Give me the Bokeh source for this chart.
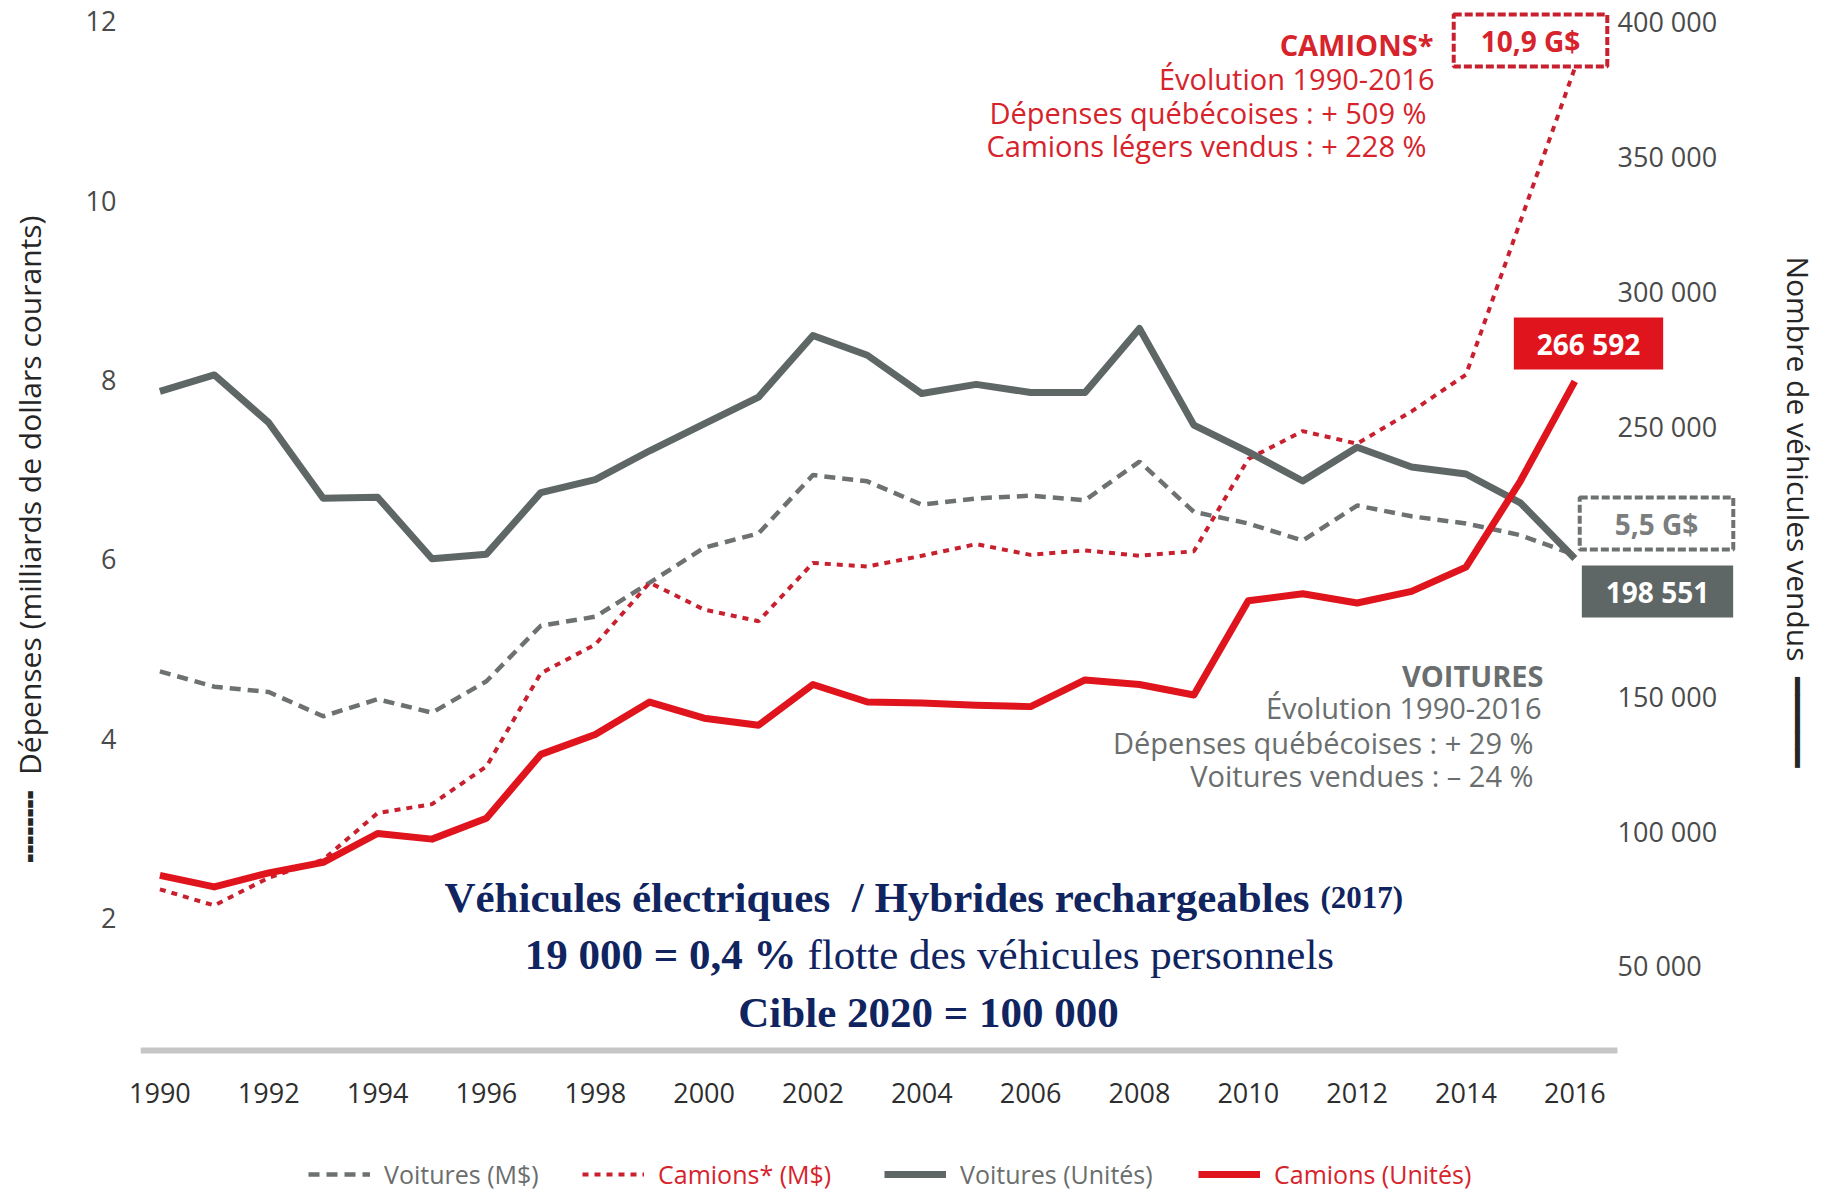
from bokeh.plotting import figure
from bokeh.layouts import column
from bokeh.models import Range1d, LinearAxis, FixedTicker, Label, Legend, LegendItem
from bokeh.embed import file_html
from bokeh.resources import INLINE

# ---------------- data ----------------
years = list(range(1990, 2017))
voitures_md = [4.75, 4.58, 4.52, 4.25, 4.44, 4.29, 4.64, 5.26, 5.36, 5.74, 6.13, 6.29, 6.94, 6.87,
               6.61, 6.68, 6.71, 6.66, 7.09, 6.53, 6.40, 6.21, 6.60, 6.48, 6.40, 6.27, 6.05]
camions_md = [2.32, 2.14, 2.45, 2.65, 3.17, 3.27, 3.69, 4.73, 5.05, 5.74, 5.44, 5.31, 5.96, 5.92,
              6.04, 6.17, 6.05, 6.10, 6.04, 6.09, 7.12, 7.43, 7.29, 7.65, 8.06, 9.77, 11.48]
voitures_units = [262900, 269000, 251300, 223300, 223700, 200900, 202600, 225400, 230200, 240900,
                  250900, 260800, 283600, 276300, 262100, 265500, 262500, 262500, 286200, 250400,
                  240500, 229700, 242200, 234900, 232300, 221600, 201000]
camions_units = [83600, 79300, 84500, 88400, 99100, 97000, 104700, 128400, 135800, 147800,
                 141800, 139200, 154300, 147800, 147400, 146600, 146100, 156000, 154300, 150400,
                 185300, 187900, 184500, 188800, 197800, 229700, 266592]
x_ticks = list(range(1990, 2017, 2))
left_ticks = [2, 4, 6, 8, 10, 12]
right_ticks = [50000, 100000, 150000, 250000, 300000, 350000, 400000]
right_tick_labels = {t: f"{t:,}".replace(",", " ") for t in right_ticks}
legend_labels = ["Voitures (M$)", "Camions* (M$)", "Voitures (Unités)", "Camions (Unités)"]

# ---------------- colours ----------------
GRAY_LINE = "#5f6766"
GRAY_DASH = "#6d7171"
RED_LINE = "#e0141c"
RED_DASH = "#c8202f"
RED_TXT = "#d6232c"
GRAY_TXT = "#6a6e6e"
NAVY = "#10245f"
NB = "\u00a0"
TITLE_FONT = "Open Sans, DejaVu Sans"

# frame in page pixels: x 140..1736, y 0..1054
FL, FB = 140, 1054
X0, X1 = 1989.6435, 2018.971
Y0, Y1 = 0.4776, 12.2331
U0, U1 = 17200, 407744
BASE_Y = 0.5222
BASE_X1 = 2016.784

p = figure(width=1824, height=1140, output_backend="svg", toolbar_location=None,
           x_range=Range1d(X0, X1), y_range=Range1d(Y0, Y1),
           min_border_left=140, min_border_right=88, min_border_top=0, min_border_bottom=86)
p.extra_y_ranges = {"units": Range1d(U0, U1)}
p.xgrid.visible = False
p.ygrid.visible = False
p.outline_line_color = None
p.background_fill_color = "white"
p.border_fill_color = "white"

xa = p.xaxis[0]
xa.ticker = FixedTicker(ticks=x_ticks)
xa.axis_line_color = None
xa.major_tick_line_color = None
xa.minor_tick_line_color = None
xa.major_tick_out = 0
xa.major_label_text_font = "Open Sans"
xa.major_label_text_font_size = "27px"
xa.major_label_text_color = "#2e2e2e"
xa.major_label_standoff = 28

ya = p.yaxis[0]
ya.ticker = FixedTicker(ticks=left_ticks)
ya.axis_line_color = None
ya.major_tick_line_color = None
ya.minor_tick_line_color = None
ya.major_tick_out = 0
ya.major_label_text_font = "Open Sans"
ya.major_label_text_font_size = "27px"
ya.major_label_text_color = "#4a4a4a"
ya.major_label_standoff = 24
ya.axis_label = "╍╍╍╍" + NB * 2 + "Dépenses (milliards de dollars courants)" + NB * 3
ya.axis_label_text_font = TITLE_FONT
ya.axis_label_text_font_style = "normal"
ya.axis_label_text_font_size = "30px"
ya.axis_label_text_color = "#262626"
ya.axis_label_standoff = 33

ra = LinearAxis(y_range_name="units", ticker=FixedTicker(ticks=right_ticks),
                major_label_overrides=right_tick_labels)
ra.axis_line_color = None
ra.major_tick_line_color = None
ra.minor_tick_line_color = None
ra.major_tick_out = 0
ra.major_label_text_font = "Open Sans"
ra.major_label_text_font_size = "27px"
ra.major_label_text_color = "#4a4a4a"
ra.major_label_standoff = -119
ra.axis_label = "Nombre de véhicules vendus" + NB * 2 + "━━━━━" + NB * 4
ra.axis_label_text_font = TITLE_FONT
ra.axis_label_text_font_style = "normal"
ra.axis_label_text_font_size = "30px"
ra.axis_label_text_color = "#262626"
ra.axis_label_standoff = 58
p.add_layout(ra, "right")

# baseline under the plot
p.segment(x0=[X0], x1=[BASE_X1], y0=[BASE_Y], y1=[BASE_Y], line_color="#c6c6c6", line_width=6)

# ---------------- lines ----------------
p.line(years, voitures_md, line_color=GRAY_DASH, line_width=4.5, line_dash="11 7")
p.line(years, camions_md, line_color=RED_DASH, line_width=4, line_dash="6 6")
p.line(years, voitures_units, y_range_name="units", line_color=GRAY_LINE, line_width=7, line_join="round")
p.line(years, camions_units, y_range_name="units", line_color=RED_LINE, line_width=7, line_join="round")


def lab(text, fx, fy, **kw):
    kw.setdefault("text_font", "Open Sans")
    kw.setdefault("text_baseline", "middle")
    p.add_layout(Label(x=fx - FL, y=FB - fy, x_units="screen", y_units="screen", text=text, **kw))


# CAMIONS block
lab("CAMIONS*", 1433, 44, text_align="right", text_font_style="bold", text_font_size="29px", text_color=RED_TXT)
lab("Évolution 1990-2016", 1434, 78, text_align="right", text_font_size="29px", text_color=RED_TXT)
lab("Dépenses québécoises : + 509 %", 1426, 112, text_align="right", text_font_size="29px", text_color=RED_TXT)
lab("Camions légers vendus : + 228 %", 1426, 145, text_align="right", text_font_size="29px", text_color=RED_TXT)

# VOITURES block
lab("VOITURES", 1543, 675, text_align="right", text_font_style="bold", text_font_size="29px", text_color=GRAY_TXT)
lab("Évolution 1990-2016", 1541, 707, text_align="right", text_font_size="29px", text_color=GRAY_TXT)
lab("Dépenses québécoises : + 29 %", 1533, 742, text_align="right", text_font_size="29px", text_color=GRAY_TXT)
lab("Voitures vendues : – 24 %", 1533, 775, text_align="right", text_font_size="29px", text_color=GRAY_TXT)

# value boxes
lab("10,9 G$", 1530, 40, text_align="center", text_font_style="bold", text_font_size="28px", text_color=RED_TXT,
    border_line_color=RED_DASH, border_line_width=4, border_line_dash="8 3",
    padding=dict(left=27, right=27, top=7, bottom=7))
lab("266 592", 1588, 343, text_align="center", text_font_style="bold", text_font_size="28px", text_color="white",
    background_fill_color=RED_LINE, padding=dict(left=23, right=23, top=7, bottom=7))
lab("5,5 G$", 1656, 523, text_align="center", text_font_style="bold", text_font_size="28px", text_color="#7b7e7e",
    border_line_color="#6f7272", border_line_width=4, border_line_dash="8 3",
    padding=dict(left=35, right=35, top=7, bottom=7))
lab("198 551", 1657, 591, text_align="center", text_font_style="bold", text_font_size="28px", text_color="white",
    background_fill_color=GRAY_LINE, padding=dict(left=24, right=24, top=7, bottom=7))

# navy message
SERIF = "Liberation Serif"
lab("Véhicules électriques" + NB + " / Hybrides rechargeables", 1309, 897, text_align="right",
    text_baseline="alphabetic", text_font=SERIF, text_font_style="bold", text_font_size="43px", text_color=NAVY)
lab("(2017)", 1320, 897, text_align="left", text_baseline="alphabetic",
    text_font=SERIF, text_font_style="bold", text_font_size="31px", text_color=NAVY)
lab("19 000 = 0,4 %", 796, 954, text_align="right", text_baseline="alphabetic",
    text_font=SERIF, text_font_style="bold", text_font_size="43px", text_color=NAVY)
lab("flotte des véhicules personnels", 807, 954, text_align="left", text_baseline="alphabetic",
    text_font=SERIF, text_font_size="43px", text_color=NAVY)
lab("Cible 2020 = 100 000", 928, 1012, text_align="center", text_baseline="alphabetic",
    text_font=SERIF, text_font_style="bold", text_font_size="43px", text_color=NAVY)

# ---------------- legend strip ----------------
p2 = figure(width=1824, height=52, output_backend="svg", toolbar_location=None,
            x_range=Range1d(0, 1824), y_range=Range1d(0, 52),
            x_axis_location=None, y_axis_location=None,
            min_border_left=0, min_border_right=0, min_border_top=0, min_border_bottom=0)
p2.xgrid.visible = False
p2.ygrid.visible = False
p2.outline_line_color = None
p2.background_fill_color = "white"
p2.border_fill_color = "white"

nan = float("nan")
k_vd = p2.line([nan], [nan], line_color=GRAY_DASH, line_width=4.5, line_dash="11 7")
k_cd = p2.line([nan], [nan], line_color=RED_DASH, line_width=4, line_dash="6 6")
k_vu = p2.line([nan], [nan], line_color=GRAY_LINE, line_width=7)
k_cu = p2.line([nan], [nan], line_color=RED_LINE, line_width=7)

# the column aligns this strip's frame with the chart frame (left edge at page x 140)
leg_specs = [(k_vd, legend_labels[0], GRAY_TXT, 308),
             (k_cd, legend_labels[1], RED_TXT, 582),
             (k_vu, legend_labels[2], GRAY_TXT, 884),
             (k_cu, legend_labels[3], RED_TXT, 1198)]
for r, text, col, fx in leg_specs:
    leg = Legend(items=[LegendItem(label=text, renderers=[r])], location=(fx - FL, 1),
                 orientation="horizontal", padding=0, margin=0, spacing=0,
                 border_line_color=None, background_fill_alpha=0,
                 glyph_width=62, glyph_height=20, label_standoff=14,
                 label_text_font="Open Sans", label_text_font_size="25px", label_text_color=col)
    p2.add_layout(leg)

layout = column(p, p2, spacing=0)
open("out.html", "w").write(file_html(layout, INLINE))
